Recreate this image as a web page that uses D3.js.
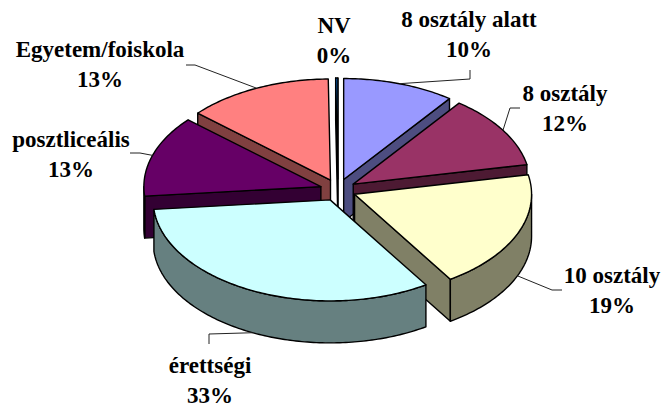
<!DOCTYPE html>
<html><head><meta charset="utf-8">
<script src="https://cdn.jsdelivr.net/npm/d3@7/dist/d3.min.js"></script>
<style>html,body{margin:0;padding:0;background:#fff}svg{display:block}</style>
</head><body><svg id="c" width="662" height="409"></svg>
<script>
const categories = ["8 osztály alatt","8 osztály","10 osztály","érettségi","posztliceális","Egyetem/foiskola","NV"];
const shares = [10.2,11.7,19.0,32.6,13.0,13.3,0.2];
const topColors = ["#9999FF","#993366","#FFFFCC","#CCFFFF","#660066","#FF8080","#0066CC"];
const drawOrder = [5,6,0,1,2,4,3];

// layout
const W=662,H=409,cx=338,cy=190,rx=177,ry=101,depth=42,ex=18,ey=11;
const labelPos = [[469,27],[565,101],[612,283],[210,373],[71,147],[100,57],[334,33]];
const leaderVia = [[[470,79],[470,70]],[[510,108],[520,108]],[[552,290],[562,290]],[[209,334],[209,344]],[[140,153],[130,153]],[[195,65],[186,65]],[]];
const lineGap = 30;

const svg=d3.select("#c");
const fmt=d3.format(".0f");
const pie=d3.pie().sort(null).startAngle(0).endAngle(2*Math.PI).value(d=>d);
const arcs=pie(shares).map((a,i)=>{
  const mid=(a.startAngle+a.endAngle)/2;
  return {i,a0:a.startAngle,a1:a.endAngle,mid,
    ox:cx+ex*Math.sin(mid),oy:cy-ey*Math.cos(mid)};
});
const P=(s,t,dz=0)=>[s.ox+rx*Math.sin(t),s.oy-ry*Math.cos(t)+dz];
const line=d3.line();
const sample=(a,b)=>{const n=Math.max(2,Math.ceil((b-a)*60));return d3.range(n+1).map(k=>a+(b-a)*k/n);};

drawOrder.forEach(i=>{
  const s=arcs[i],c=topColors[i];
  const side=d3.rgb(c);
  const dark=d3.rgb(side.r/2,side.g/2,side.b/2).formatHex();
  const g=svg.append("g");
  const put=(pts,fill)=>g.append("path").attr("d",line(pts)+"Z").attr("fill",fill)
    .attr("stroke","#000").attr("stroke-width",1.4).attr("stroke-linejoin","round");
  const wall=t=>{const e=P(s,t);put([[s.ox,s.oy],e,[e[0],e[1]+depth],[s.ox,s.oy+depth]],dark);};
  if(Math.sin(s.a0)<0) wall(s.a0);
  if(Math.sin(s.a1)>0) wall(s.a1);
  const lo=Math.max(s.a0,Math.PI/2),hi=Math.min(s.a1,3*Math.PI/2);
  if(hi>lo){
    const ts=sample(lo,hi);
    put(ts.map(t=>P(s,t)).concat(ts.slice().reverse().map(t=>P(s,t,depth))),dark);
  }
  put([[s.ox,s.oy]].concat(sample(s.a0,s.a1).map(t=>P(s,t))),c);
});

arcs.forEach(s=>{
  const via=leaderVia[s.i]; if(!via.length) return;
  const front=Math.cos(s.mid)<0;
  const st=P(s,s.mid,front?depth:0);
  svg.append("path").attr("d",line([st].concat(via))).attr("fill","none")
    .attr("stroke","#222").attr("stroke-width",1);
});

categories.forEach((name,i)=>{
  const [x,y]=labelPos[i];
  const t=svg.append("text").attr("text-anchor","middle")
    .attr("font-family","'Liberation Serif',serif").attr("font-weight","bold")
    .attr("font-size",23).attr("fill","#000");
  t.append("tspan").attr("x",x).attr("y",y).text(name);
  t.append("tspan").attr("x",x).attr("y",y+lineGap).text(fmt(shares[i])+"%");
});
</script></body></html>
